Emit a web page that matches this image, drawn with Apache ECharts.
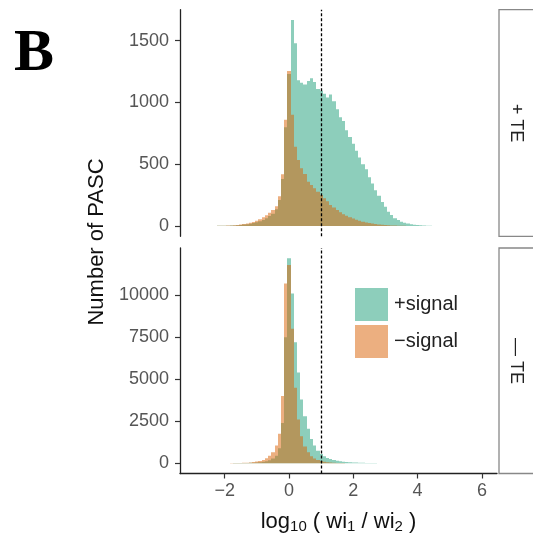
<!DOCTYPE html>
<html>
<head>
<meta charset="utf-8">
<title>PASC histogram</title>
<script src="https://cdn.jsdelivr.net/npm/echarts@6/dist/echarts.min.js"></script>
<style>
  html, body { margin: 0; padding: 0; background: #ffffff; }
  #chart { width: 533px; height: 538px; }
</style>
</head>
<body>
<div id="chart"></div>
<script>
// Histogram bins: centres of log10(wi1/wi2) bins, width 0.1
const bins = [
  -2.5, -2.4, -2.3, -2.2, -2.1, -2.0, -1.9, -1.8, -1.7, -1.6,
  -1.5, -1.4, -1.3, -1.2, -1.1, -1.0, -0.9, -0.8, -0.7, -0.6,
  -0.5, -0.4, -0.3, -0.2, -0.1, 0.0, 0.1, 0.2, 0.3, 0.4,
  0.5, 0.6, 0.7, 0.8, 0.9, 1.0, 1.1, 1.2, 1.3, 1.4,
  1.5, 1.6, 1.7, 1.8, 1.9, 2.0, 2.1, 2.2, 2.3, 2.4,
  2.5, 2.6, 2.7, 2.8, 2.9, 3.0, 3.1, 3.2, 3.3, 3.4,
  3.5, 3.6, 3.7, 3.8, 3.9, 4.0, 4.1, 4.2, 4.3, 4.4,
  4.5
];
const binWidth = 0.1;

// + TE facet
const plusTE_plusSignal = [
  0, 1, 1, 2, 2, 3, 3, 4, 5, 7,
  9, 12, 15, 19, 24, 30, 38, 48, 62, 80,
  100, 135, 210, 380, 800, 1230, 1668, 1480, 1180, 1160,
  1145, 1175, 1196, 1165, 1110, 1095, 1070, 1040, 1065, 1010,
  945, 880, 850, 775, 720, 665, 610, 555, 500, 460,
  395, 345, 290, 245, 195, 155, 115, 90, 62, 48,
  35, 27, 20, 15, 11, 8, 6, 4, 3, 2,
  1
];
const plusTE_minusSignal = [
  1, 1, 1, 2, 2, 3, 4, 5, 7, 9,
  12, 16, 20, 26, 33, 42, 55, 70, 88, 108,
  130, 160, 240, 420, 860, 1255, 900, 642, 534, 467,
  421, 359, 332, 305, 278, 251, 224, 200, 170, 150,
  130, 112, 96, 83, 70, 60, 50, 42, 35, 29,
  24, 20, 16, 13, 10, 8, 6, 5, 4, 3,
  2, 2, 1, 1, 0, 0, 0, 0, 0, 0,
  0
];

// - TE facet
const minusTE_plusSignal = [
  1, 1, 2, 2, 3, 4, 5, 6, 8, 10,
  13, 16, 20, 26, 34, 45, 60, 85, 120, 180,
  280, 450, 900, 2400, 7500, 12200, 10100, 7200, 5400, 3800,
  2800, 2050, 1450, 1050, 750, 550, 410, 310, 250, 195,
  155, 120, 95, 75, 60, 48, 38, 30, 24, 19,
  15, 12, 9, 7, 5, 4, 3, 2, 2, 1,
  1, 1, 0, 0, 0, 0, 0, 0, 0, 0,
  0
];
const minusTE_minusSignal = [
  1, 2, 2, 3, 4, 5, 6, 8, 10, 13,
  18, 25, 35, 50, 70, 100, 140, 200, 300, 450,
  650, 1050, 1750, 4000, 10700, 11800, 8000, 4500, 2600, 1600,
  1000, 650, 420, 280, 190, 130, 90, 65, 45, 32,
  22, 15, 10, 7, 5, 3, 2, 2, 1, 1,
  0, 0, 0, 0, 0, 0, 0, 0, 0, 0,
  0, 0, 0, 0, 0, 0, 0, 0, 0, 0,
  0
];

const xTicks = [-2, 0, 2, 4, 6];
const yTicksTop = [0, 500, 1000, 1500];
const yTicksBottom = [0, 2500, 5000, 7500, 10000];
const facetLabels = ['+ TE', '\u2014 TE'];
const seriesNames = ['+signal', '\u2212signal'];
const threshold = 1;

const colPlus = 'rgba(27,158,119,0.5)';
const colMinus = 'rgba(217,95,2,0.5)';
const font = "'Liberation Sans', Arial, Helvetica, sans-serif";

function pairs(values) {
  return bins.map((b, i) => [b, values[i]]);
}

// one histogram bin as a rectangle; edges snapped to whole pixels so neighbours meet cleanly
function renderBin(params, api) {
  const x = api.value(0);
  const y = api.value(1);
  if (!y) return null;
  const p0 = api.coord([x - binWidth / 2, y]);
  const p1 = api.coord([x + binWidth / 2, 0]);
  const x0 = Math.round(p0[0]);
  const x1 = Math.round(p1[0]);
  return {
    type: 'rect',
    shape: { x: x0, y: p0[1], width: x1 - x0, height: p1[1] - p0[1] },
    style: api.style()
  };
}

const vline = {
  silent: true,
  symbol: ['none', 'none'],
  label: { show: false },
  lineStyle: { color: '#000', width: 1.3, type: [3, 2] },
  data: [{ xAxis: threshold }],
  animation: false
};

function hist(name, data, color, idx, withLine) {
  const s = {
    name: name,
    type: 'custom',
    xAxisIndex: idx,
    yAxisIndex: idx,
    renderItem: renderBin,
    data: pairs(data),
    itemStyle: { color: color },
    clip: true,
    encode: { x: 0, y: 1 }
  };
  if (withLine) s.markLine = vline;
  return s;
}

const xMin = -3.39, xMax = 6.47;
const plain = v => String(v);

const chart = echarts.init(document.getElementById('chart'), null, { renderer: 'canvas' });
chart.setOption({
  animation: false,
  backgroundColor: '#ffffff',
  textStyle: { fontFamily: font },
  grid: [
    { left: 180, top: 9.7, width: 317, height: 226.6 },
    { left: 180, top: 248, width: 317, height: 225.5 }
  ],
  xAxis: [
    {
      type: 'value', gridIndex: 0, min: xMin, max: xMax,
      axisLine: { show: false }, axisTick: { show: false },
      axisLabel: { show: false }, splitLine: { show: false }
    },
    {
      type: 'value', gridIndex: 1, min: xMin, max: xMax,
      axisLine: { show: true, onZero: false, lineStyle: { color: '#222', width: 1.3 } },
      axisTick: { show: true, length: 5, customValues: xTicks, lineStyle: { color: '#333', width: 1.2 } },
      axisLabel: { customValues: xTicks, color: '#555', fontSize: 18, margin: 9, fontFamily: font,
        formatter: v => (v < 0 ? '\u2212' + Math.abs(v) : String(v)) },
      splitLine: { show: false },
      name: 'log{s|10} ( wi{s|1} / wi{s|2} )',
      nameLocation: 'middle',
      nameGap: 36,
      nameTextStyle: {
        color: '#111', fontSize: 22, fontFamily: font, lineHeight: 24,
        rich: { s: { fontSize: 15, fontFamily: font, color: '#111', padding: [10, 0, 0, 0] } }
      }
    }
  ],
  yAxis: [
    {
      type: 'value', gridIndex: 0, min: -83.4, max: 1751.4,
      axisLine: { show: true, onZero: false, lineStyle: { color: '#222', width: 1.3 } },
      axisTick: { show: true, length: 5, customValues: yTicksTop, lineStyle: { color: '#333', width: 1.2 } },
      axisLabel: { customValues: yTicksTop, color: '#555', fontSize: 18, margin: 11, fontFamily: font, formatter: plain },
      splitLine: { show: false }
    },
    {
      type: 'value', gridIndex: 1, min: -610, max: 12810,
      axisLine: { show: true, onZero: false, lineStyle: { color: '#222', width: 1.3 } },
      axisTick: { show: true, length: 5, customValues: yTicksBottom, lineStyle: { color: '#333', width: 1.2 } },
      axisLabel: { customValues: yTicksBottom, color: '#555', fontSize: 18, margin: 11, fontFamily: font, formatter: plain },
      splitLine: { show: false }
    }
  ],
  legend: {
    orient: 'vertical',
    left: 350,
    top: 283,
    itemWidth: 33,
    itemHeight: 33,
    itemGap: 4,
    icon: 'rect',
    data: seriesNames,
    formatter: name => '{t|' + name + '}',
    textStyle: {
      fontFamily: font,
      rich: { t: { fontSize: 20, color: '#222', width: 65, align: 'right', fontFamily: font } }
    },
    selectedMode: false
  },
  graphic: [
    {
      type: 'text', left: 14, top: 24,
      style: { text: 'B', font: "bold 60px 'Liberation Serif', 'Times New Roman', serif", fill: '#000' }
    },
    {
      type: 'text', x: 97, y: 242, rotation: Math.PI / 2,
      style: { text: 'Number of PASC', font: '22px ' + font, fill: '#111', align: 'center', verticalAlign: 'middle' }
    },
    {
      type: 'rect', shape: { x: 499, y: 9.7, width: 60, height: 226.6 },
      style: { fill: '#fff', stroke: '#888', lineWidth: 1.3 }
    },
    {
      type: 'rect', shape: { x: 499, y: 248, width: 60, height: 225.5 },
      style: { fill: '#fff', stroke: '#888', lineWidth: 1.3 }
    },
    {
      type: 'text', x: 516, y: 123, rotation: -Math.PI / 2,
      style: { text: facetLabels[0], font: '18px ' + font, fill: '#222', align: 'center', verticalAlign: 'middle' }
    },
    {
      type: 'text', x: 516, y: 361, rotation: -Math.PI / 2,
      style: { text: facetLabels[1], font: '18px ' + font, fill: '#222', align: 'center', verticalAlign: 'middle' }
    }
  ],
  series: [
    hist(seriesNames[0], plusTE_plusSignal, colPlus, 0, true),
    hist(seriesNames[1], plusTE_minusSignal, colMinus, 0, false),
    hist(seriesNames[0], minusTE_plusSignal, colPlus, 1, true),
    hist(seriesNames[1], minusTE_minusSignal, colMinus, 1, false)
  ]
});
</script>
</body>
</html>
